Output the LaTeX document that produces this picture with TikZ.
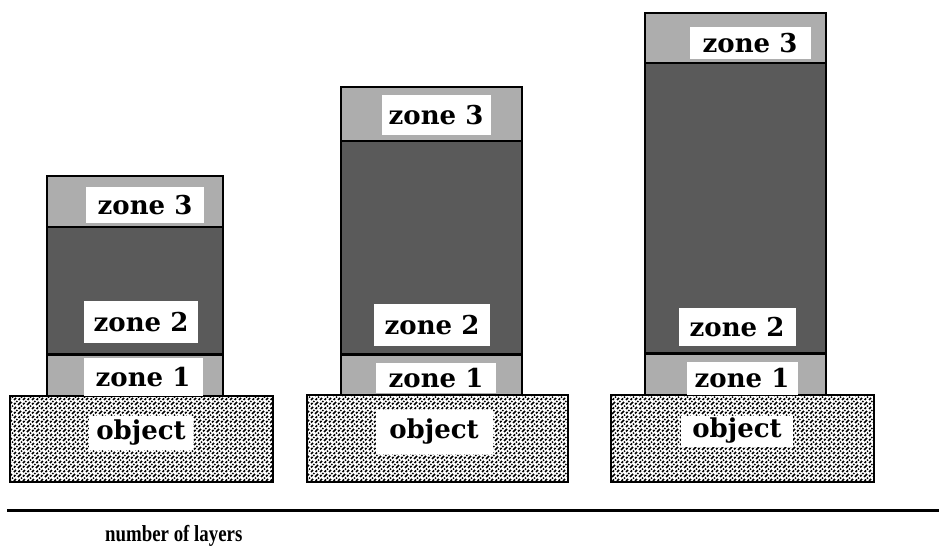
\documentclass[tikz,border=0pt]{standalone}
\usepackage{fontspec}
\setmainfont{DejaVu Serif}
\newfontfamily\axfont[FakeStretch=0.82]{Liberation Serif}
\usetikzlibrary{patterns}
\definecolor{lightz}{HTML}{ADADAD}
\definecolor{darkz}{HTML}{5A5A5A}
\pgfdeclarepatternformonly{objtex}{\pgfqpoint{-1pt}{-1pt}}{\pgfqpoint{10pt}{10pt}}{\pgfqpoint{9pt}{9pt}}{%
  \pgfsetlinewidth{1.6pt}%
  \pgfpathmoveto{\pgfqpoint{0pt}{0pt}}\pgfpathlineto{\pgfqpoint{3pt}{3pt}}%
  \pgfpathmoveto{\pgfqpoint{5pt}{5pt}}\pgfpathlineto{\pgfqpoint{7pt}{7pt}}%
  \pgfpathmoveto{\pgfqpoint{5pt}{0.5pt}}\pgfpathlineto{\pgfqpoint{6.5pt}{2pt}}%
  \pgfpathmoveto{\pgfqpoint{0.5pt}{5pt}}\pgfpathlineto{\pgfqpoint{2pt}{6.5pt}}%
  \pgfusepath{stroke}%
  \pgfpathcircle{\pgfqpoint{7.8pt}{3.5pt}}{1pt}%
  \pgfpathcircle{\pgfqpoint{3.5pt}{7.8pt}}{1pt}%
  \pgfusepath{fill}%
}
\begin{document}
\begin{tikzpicture}[x=1pt,y=-1pt,
  zonebox/.style={draw=black, line width=1.3pt, inner sep=0pt, outer sep=0pt, anchor=north west},
  objbox/.style={draw=black, line width=2.2pt, fill=white, postaction={pattern=objtex}, inner sep=0pt, outer sep=0pt, anchor=north west},
  lab/.style={fill=white, inner sep=0pt, outer sep=0pt, font=\fontsize{26}{26}\selectfont\bfseries},
  divA/.style={line width=2pt},
  divB/.style={line width=3pt},
  axis/.style={line width=3pt}]
\useasboundingbox (0,0) rectangle (939,549);

% ---------- stack 1 ----------
\node[zonebox, fill=lightz, minimum width=176pt, minimum height=51pt] (a3) at (47,176) {};
\node[zonebox, fill=darkz, minimum width=176pt, minimum height=127pt] (a2) at (47,227) {};
\node[zonebox, fill=lightz, minimum width=176pt, minimum height=42pt] (a1) at (47,354) {};
\draw[divA] (a3.south west) -- (a3.south east);
\draw[divB] (a2.south west) -- (a2.south east);
\node[objbox, minimum width=263pt, minimum height=86pt] (ao) at (10,396) {};
\node[lab, minimum width=118pt, minimum height=36pt] (a3l) at (145,205) {zone 3};
\node[lab, minimum width=114pt, minimum height=42pt] (a2l) at (141,322) {zone 2};
\node[lab, minimum width=119pt, minimum height=38pt] (a1l) at (143,377) {zone 1};
\node[lab, minimum width=104pt, minimum height=34pt] (aol) at (141,433) {object};

% ---------- stack 2 ----------
\node[zonebox, fill=lightz, minimum width=181pt, minimum height=54pt] (b3) at (341,87) {};
\node[zonebox, fill=darkz, minimum width=181pt, minimum height=213pt] (b2) at (341,141) {};
\node[zonebox, fill=lightz, minimum width=181pt, minimum height=41pt] (b1) at (341,354) {};
\draw[divA] (b3.south west) -- (b3.south east);
\draw[divB] (b2.south west) -- (b2.south east);
\node[objbox, minimum width=261pt, minimum height=87pt] (bo) at (307,395) {};
\node[lab, minimum width=109pt, minimum height=40pt] (b3l) at (436,115) {zone 3};
\node[lab, minimum width=116pt, minimum height=42pt] (b2l) at (432,325) {zone 2};
\node[lab, minimum width=120pt, minimum height=30pt] (b1l) at (436,378) {zone 1};
\node[lab, minimum width=117pt, minimum height=44pt] (bol) at (434,432) {object};

% ---------- stack 3 ----------
\node[zonebox, fill=lightz, minimum width=181pt, minimum height=50pt] (c3) at (645,13) {};
\node[zonebox, fill=darkz, minimum width=181pt, minimum height=290pt] (c2) at (645,63) {};
\node[zonebox, fill=lightz, minimum width=181pt, minimum height=42pt] (c1) at (645,353) {};
\draw[divA] (c3.south west) -- (c3.south east);
\draw[divB] (c2.south west) -- (c2.south east);
\node[objbox, minimum width=263pt, minimum height=87pt] (co) at (611,395) {};
\node[lab, minimum width=121pt, minimum height=32pt] (c3l) at (750,43) {zone 3};
\node[lab, minimum width=117pt, minimum height=38pt] (c2l) at (737,327) {zone 2};
\node[lab, minimum width=111pt, minimum height=33pt] (c1l) at (742,378) {zone 1};
\node[lab, minimum width=112pt, minimum height=31pt] (col) at (737,431) {object};

% ---------- axis ----------
\coordinate (axL) at (7,510);
\coordinate (axR) at (939,510);
\draw[axis] (axL) -- (axR);
\node[anchor=base west, inner sep=0pt, font=\axfont\fontsize{23}{24}\selectfont\bfseries] (axlab) at (105,541) {number of layers};
\end{tikzpicture}
\end{document}
